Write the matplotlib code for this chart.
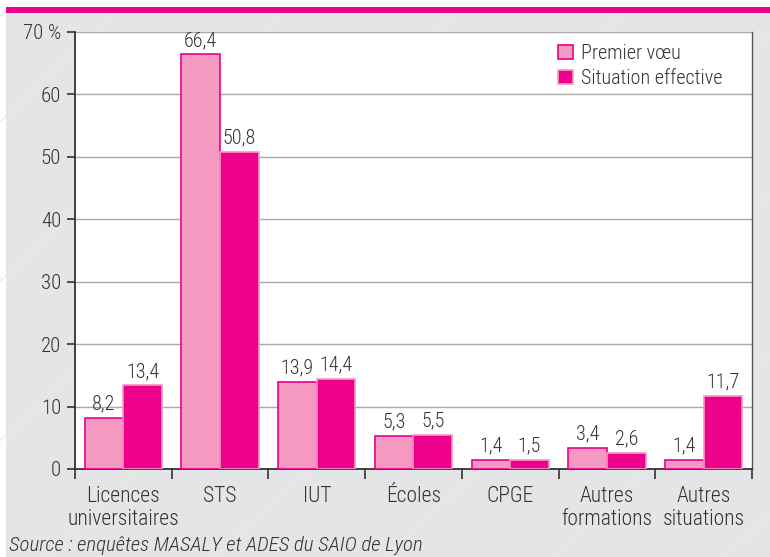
import matplotlib
matplotlib.use('Agg')
import matplotlib.pyplot as plt
import matplotlib.patches as mpatches
from matplotlib.lines import Line2D
import numpy as np

# orientation des bacheliers : premier voeu et situation effective (%)
categories = ['Licences\nuniversitaires', 'STS', 'IUT', 'Écoles', 'CPGE',
              'Autres\nformations', 'Autres\nsituations']
premier_voeu = [8.2, 66.4, 13.9, 5.3, 1.4, 3.4, 1.4]
situation_effective = [13.4, 50.8, 14.4, 5.5, 1.5, 2.6, 11.7]
series_names = ['Premier vœu', 'Situation effective']
yticks = [0, 10, 20, 30, 40, 50, 60, 70]
ytick_labels = ['0', '10', '20', '30', '40', '50', '60', '70 %']
source = 'Source : enquêtes MASALY et ADES du SAIO de Lyon'

plt.rcParams['font.family'] = ['Roboto Condensed', 'Liberation Sans Narrow', 'DejaVu Sans']
plt.rcParams['font.stretch'] = 'condensed'
plt.rcParams['font.weight'] = 'light'

light_pink = '#f49ac1'
magenta = '#ec008c'
text_col = '#333333'
bg_grey = '#e4e5e6'

fig = plt.figure(figsize=(7.7, 5.57), dpi=100)
fig.patch.set_facecolor('white')

# fond gris et bandeau magenta en haut
fig.patches.append(mpatches.Rectangle((0.008, 0), 0.992, 0.977, transform=fig.transFigure,
                                      facecolor=bg_grey, edgecolor='none', zorder=-10))
fig.patches.append(mpatches.Rectangle((0.008, 0.977), 0.992, 0.011, transform=fig.transFigure,
                                      facecolor=magenta, edgecolor='none', zorder=-9))
# fines diagonales claires sur le fond
for x0 in np.arange(-0.6, 1.2, 0.22):
    fig.lines.append(Line2D([x0, x0 + 0.75], [0, 0.977], transform=fig.transFigure,
                            color='#eaeaeb', linewidth=0.8, zorder=-9.5))

ax = fig.add_axes([0.0974, 0.158, 0.8792, 0.7846])
ax.set_facecolor('white')

x = np.arange(len(categories))
w = 0.4
b1 = ax.bar(x - w / 2, premier_voeu, w, color=light_pink, edgecolor=magenta,
            linewidth=1.2, label=series_names[0], zorder=3)
b2 = ax.bar(x + w / 2, situation_effective, w, color=magenta, edgecolor=light_pink,
            linewidth=1.2, label=series_names[1], zorder=3)

for bars, vals in ((b1, premier_voeu), (b2, situation_effective)):
    for bar, v in zip(bars, vals):
        ax.text(bar.get_x() + bar.get_width() / 2, v + 0.7, f'{v:.1f}'.replace('.', ','),
                ha='center', va='bottom', fontsize=14.5, color=text_col)

ax.set_xlim(-0.5, len(categories) - 0.5)
ax.set_ylim(0, 70)
ax.set_yticks(yticks)
ax.set_yticklabels(ytick_labels)
ax.yaxis.grid(True, color='#a8a8a8', linewidth=1)
ax.set_axisbelow(True)

# graduations de l'axe x entre les groupes
ax.set_xticks(np.arange(-0.5, len(categories), 1.0))
ax.set_xticklabels([])
ax.set_xticks(x, minor=True)
ax.set_xticklabels(categories, minor=True, fontsize=15.5, color=text_col, linespacing=1.12)
ax.tick_params(axis='x', which='minor', length=0, pad=12)
ax.tick_params(axis='x', which='major', length=7, width=1.2, color='#333333')
ax.tick_params(axis='y', length=6, width=1.2, color='#333333', labelsize=15,
               labelcolor=text_col, pad=4)

for s in ('left', 'bottom'):
    ax.spines[s].set_color('#333333')
    ax.spines[s].set_linewidth(1.3)
ax.spines['top'].set_visible(False)
ax.spines['right'].set_color('#555555')
ax.spines['right'].set_linewidth(1)

ax.legend(loc='upper right', bbox_to_anchor=(0.975, 1.0), frameon=False, fontsize=14.5,
          handlelength=0.75, handleheight=0.75, handletextpad=0.4, labelspacing=0.3,
          labelcolor=text_col, borderaxespad=0.2)

fig.text(0.012, 0.003, source, fontsize=15, style='italic', color=text_col,
         ha='left', va='bottom')

fig.savefig('out.png', dpi=100)
